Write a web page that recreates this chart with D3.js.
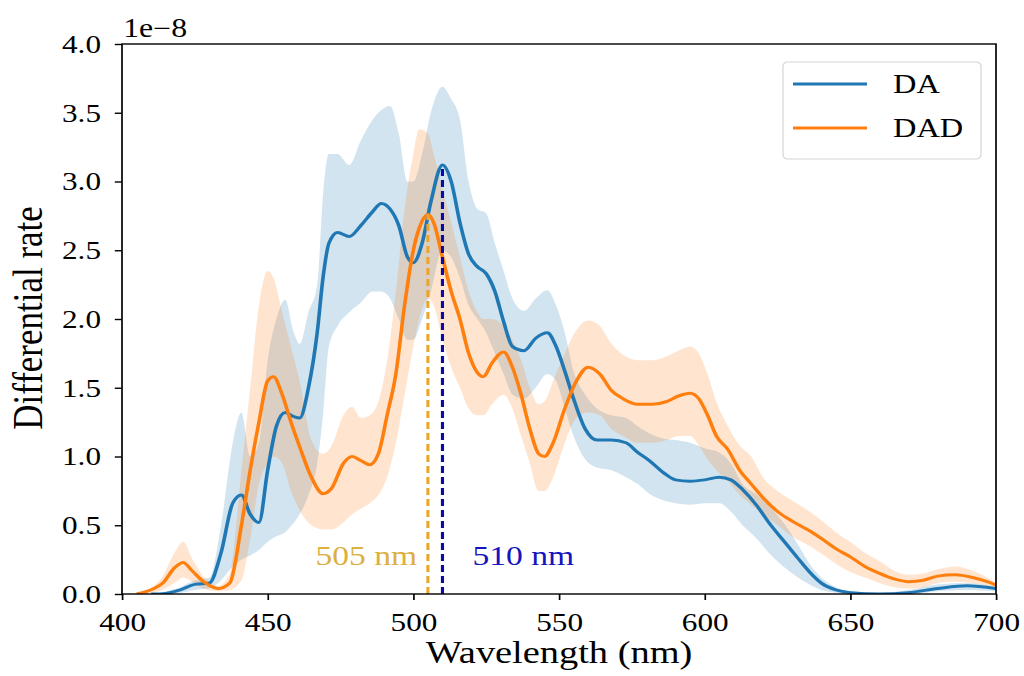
<!DOCTYPE html>
<html>
<head>
<meta charset="utf-8">
<script src="https://cdn.jsdelivr.net/npm/d3@7"></script>
<style>
  body { margin: 0; background: #fff; }
  svg { display: block; }
  text { font-family: "Liberation Serif", "Times New Roman", serif; fill: #000; }
</style>
</head>
<body>
<svg id="chart"></svg>
<script>
// DA: wavelength, mean rate, lower / upper band (units of 1e-8)
let wlDA = [410,413,420,425,430,434,438,441,444,447,450,453,456,459,461,464,467,469,471,474,478,482,486,489,492,495,498,500,503,506,510,513,516,519,522,525,528,531,534,538,542,546,549,552,555,559,563,568,573,577,581,586,590,595,600,605,609,613,618,622,627,632,636,640,645,650,660,670,680,690,700];
let meanDA = [0,0,0.03,0.07,0.08,0.3,0.66,0.72,0.58,0.52,0.9,1.22,1.32,1.29,1.28,1.5,1.9,2.3,2.55,2.63,2.6,2.68,2.78,2.84,2.8,2.68,2.45,2.41,2.55,2.85,3.12,3.0,2.7,2.47,2.38,2.33,2.2,1.98,1.8,1.77,1.86,1.9,1.8,1.62,1.42,1.2,1.12,1.12,1.1,1.03,0.97,0.88,0.83,0.82,0.83,0.85,0.83,0.76,0.64,0.52,0.39,0.26,0.16,0.08,0.03,0.01,0,0.01,0.04,0.06,0.04];
let lowDA = [0,0,0.01,0.03,0.04,0.1,0.2,0.25,0.28,0.32,0.38,0.42,0.45,0.52,0.58,0.72,0.95,1.3,1.8,1.95,2.05,2.12,2.2,2.2,2.15,2.0,1.85,1.85,2.0,2.2,2.5,2.45,2.3,2.1,2.0,1.9,1.75,1.6,1.45,1.42,1.5,1.6,1.55,1.35,1.15,0.98,0.92,0.9,0.85,0.8,0.73,0.68,0.66,0.65,0.66,0.66,0.6,0.5,0.4,0.3,0.2,0.12,0.07,0.03,0.01,0,0,0,0.02,0.03,0.02];
let highDA = [0,0.01,0.05,0.1,0.12,0.5,1.1,1.32,1.0,1.1,1.7,2.0,2.14,1.9,1.82,2.05,2.25,2.9,3.2,3.2,3.12,3.3,3.45,3.52,3.55,3.35,3.0,3.0,3.2,3.5,3.69,3.6,3.45,3.0,2.8,2.77,2.55,2.35,2.15,2.06,2.15,2.21,2.1,1.9,1.62,1.45,1.35,1.3,1.28,1.22,1.17,1.13,1.12,1.1,1.06,1.03,0.95,0.8,0.72,0.64,0.52,0.36,0.22,0.12,0.05,0.02,0.01,0.03,0.07,0.08,0.05];

// DAD
let wlDAD = [405,407,411,414,418,421,424,428,433,437,441,444,447,450,452,455,458,461,465,469,472,476,479,482,485,488,491,494,497,500,502,505,507,510,513,516,519,522,524,527,531,534,537,540,543,545,548,552,556,560,564,568,572,577,582,587,591,595,598,601,604,608,612,616,620,625,630,636,641,645,650,655,660,665,670,675,680,686,692,697,700];
let meanDAD = [0,0.01,0.04,0.08,0.19,0.23,0.17,0.09,0.04,0.08,0.5,0.9,1.25,1.55,1.58,1.45,1.25,1.07,0.85,0.73,0.77,0.95,1.0,0.97,0.94,1.02,1.3,1.6,2.1,2.5,2.66,2.76,2.7,2.45,2.2,2.0,1.75,1.61,1.58,1.68,1.76,1.65,1.45,1.2,1.02,1.0,1.1,1.35,1.55,1.65,1.6,1.48,1.42,1.38,1.38,1.4,1.44,1.46,1.42,1.3,1.15,1.05,0.9,0.8,0.7,0.6,0.53,0.46,0.39,0.33,0.27,0.2,0.15,0.11,0.09,0.1,0.13,0.14,0.12,0.09,0.065];
let lowDAD = [0,0,0.01,0.03,0.08,0.12,0.09,0.04,0.02,0.03,0.1,0.4,0.8,0.95,1.0,0.95,0.75,0.61,0.5,0.47,0.47,0.52,0.58,0.62,0.66,0.72,0.85,1.1,1.45,1.8,2.0,2.15,2.1,1.85,1.65,1.5,1.35,1.3,1.3,1.38,1.45,1.35,1.15,0.95,0.75,0.75,0.85,1.1,1.28,1.32,1.3,1.2,1.15,1.1,1.1,1.12,1.15,1.15,1.08,0.98,0.9,0.82,0.72,0.65,0.58,0.5,0.42,0.35,0.28,0.22,0.16,0.12,0.08,0.05,0.04,0.05,0.08,0.09,0.08,0.06,0.05];
let highDAD = [0,0.02,0.06,0.13,0.3,0.38,0.26,0.13,0.06,0.15,0.9,1.5,2.1,2.35,2.3,2.05,1.8,1.55,1.12,1.02,1.08,1.3,1.36,1.28,1.3,1.4,1.7,2.2,2.8,3.2,3.38,3.35,3.2,2.95,2.7,2.45,2.2,2.05,2.0,2.0,1.95,1.85,1.7,1.5,1.38,1.4,1.55,1.75,1.92,1.99,1.95,1.82,1.74,1.7,1.7,1.73,1.77,1.8,1.75,1.6,1.4,1.22,1.08,1.0,0.85,0.75,0.68,0.6,0.52,0.45,0.38,0.3,0.24,0.17,0.14,0.15,0.18,0.2,0.17,0.12,0.08];

let xTicks = [400,450,500,550,600,650,700];
let yTicks = [0,0.5,1,1.5,2,2.5,3,3.5,4];
let seriesNames = ["DA","DAD"];
let seriesColors = ["#1f77b4","#ff7f0e"];
let markWl = [505,510];
let markLabels = ["505 nm","510 nm"];

// the reference is stretched sideways, so draw narrow and stretch the svg
let stretch = 1.2;
let W = 1024 / stretch, H = 676;

let svg = d3.select("#chart")
  .attr("width", 1024)
  .attr("height", H)
  .attr("viewBox", "0 0 " + W + " " + H)
  .attr("preserveAspectRatio", "none");

let pLeft = 122 / stretch, pRight = 996 / stretch, pTop = 44, pBottom = 594;

let x = d3.scaleLinear().domain([400,700]).range([pLeft, pRight]);
let y = d3.scaleLinear().domain([0,4]).range([pBottom, pTop]);

let series = [
  {wl: wlDA, mean: meanDA, low: lowDA, high: highDA},
  {wl: wlDAD, mean: meanDAD, low: lowDAD, high: highDAD}
];

let band = d3.area()
  .curve(d3.curveMonotoneX)
  .x(d => x(d.w))
  .y0(d => y(d.lo))
  .y1(d => y(d.hi));

let line = d3.line()
  .curve(d3.curveMonotoneX)
  .x(d => x(d.w))
  .y(d => y(d.m));

let rows = series.map(s => s.wl.map((w, i) => ({w: w, m: s.mean[i], lo: s.low[i], hi: s.high[i]})));

svg.append("clipPath").attr("id", "plotclip")
  .append("rect")
  .attr("x", pLeft).attr("y", pTop)
  .attr("width", pRight - pLeft).attr("height", pBottom - pTop);

let plot = svg.append("g").attr("clip-path", "url(#plotclip)");

rows.forEach((r, i) => {
  plot.append("path")
    .attr("d", band(r))
    .attr("fill", seriesColors[i])
    .attr("fill-opacity", 0.2);
});

rows.forEach((r, i) => {
  plot.append("path")
    .attr("d", line(r))
    .attr("fill", "none")
    .attr("stroke", seriesColors[i])
    .attr("stroke-width", 3);
});

// peak markers: dashed from 0 up to the curve's peak
let markLineColors = ["#eba52b", "#0a0aa8"];
let markTextColors = ["#dcb040", "#1414c0"];
let peaks = [d3.max(meanDAD), d3.max(meanDA)];

markWl.forEach((w, i) => {
  plot.append("line")
    .attr("x1", x(w)).attr("x2", x(w))
    .attr("y1", y(0)).attr("y2", y(peaks[i]))
    .attr("stroke", markLineColors[i])
    .attr("stroke-width", 2.6)
    .attr("stroke-dasharray", "7,4");
});

svg.append("text")
  .attr("x", x(markWl[0]) - 9)
  .attr("y", 565)
  .attr("text-anchor", "end")
  .style("font-size", "28px")
  .style("fill", markTextColors[0])
  .text(markLabels[0]);

svg.append("text")
  .attr("x", x(markWl[1]) + 25)
  .attr("y", 565)
  .attr("text-anchor", "start")
  .style("font-size", "28px")
  .style("fill", markTextColors[1])
  .text(markLabels[1]);

// axes
let xAxis = svg.append("g")
  .attr("transform", "translate(0," + pBottom + ")")
  .call(d3.axisBottom(x).tickValues(xTicks).tickFormat(d3.format("d")).tickSize(6).tickPadding(12.5));

let yAxis = svg.append("g")
  .attr("transform", "translate(" + pLeft + ",0)")
  .call(d3.axisLeft(y).tickValues(yTicks).tickFormat(d3.format(".1f")).tickSize(6).tickPadding(11.5));

[xAxis, yAxis].forEach(a => {
  a.select(".domain").remove();
  a.selectAll(".tick line").attr("stroke", "#000").attr("stroke-width", 1.4);
  a.selectAll(".tick text").style("font-size", "26px").style("fill", "#000")
    .style("font-family", "'Liberation Serif', 'Times New Roman', serif");
});

svg.append("rect")
  .attr("x", pLeft).attr("y", pTop)
  .attr("width", pRight - pLeft).attr("height", pBottom - pTop)
  .attr("fill", "none")
  .attr("stroke", "#000")
  .attr("stroke-width", 1.4);

svg.append("text")
  .attr("x", pLeft + 1)
  .attr("y", 37)
  .style("font-size", "26.5px")
  .text("1e\u22128");

svg.append("text")
  .attr("x", (pLeft + pRight) / 2)
  .attr("y", 663)
  .attr("text-anchor", "middle")
  .style("font-size", "32px")
  .text("Wavelength (nm)");

svg.append("text")
  .attr("transform", "translate(35," + 318 + ") rotate(-90)")
  .attr("text-anchor", "middle")
  .style("font-size", "35px")
  .text("Differential rate");

// legend
let legend = svg.append("g");

legend.append("rect")
  .attr("x", 783 / stretch).attr("y", 62)
  .attr("width", (981 - 783) / stretch).attr("height", 97)
  .attr("rx", 4).attr("ry", 4)
  .attr("fill", "#fff").attr("fill-opacity", 0.8)
  .attr("stroke", "#d4d4d4").attr("stroke-width", 1);

seriesNames.forEach((n, i) => {
  let ly = 84 + i * 44;
  legend.append("line")
    .attr("x1", 793 / stretch).attr("x2", 867 / stretch)
    .attr("y1", ly).attr("y2", ly)
    .attr("stroke", seriesColors[i])
    .attr("stroke-width", 3);
  legend.append("text")
    .attr("x", 893 / stretch)
    .attr("y", ly + 9)
    .style("font-size", "27px")
    .text(n);
});
</script>
</body>
</html>
